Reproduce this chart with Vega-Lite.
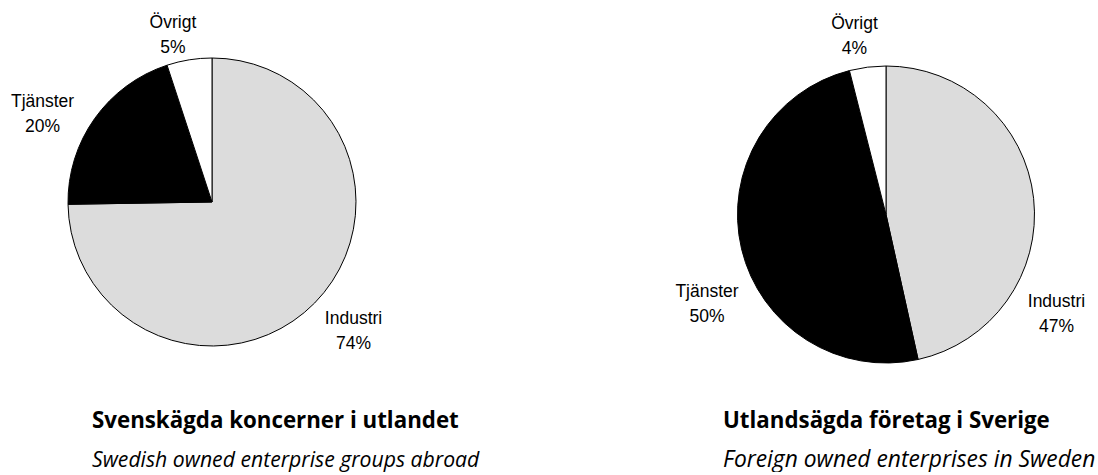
{
  "$schema": "https://vega.github.io/schema/vega-lite/v6.json",
  "padding": 0,
  "background": "white",
  "spacing": 250,
  "bounds": "flush",
  "config": {"view": {"stroke": null}},
  "hconcat": [
    {
      "width": 424,
      "height": 404,
      "data": {"values": [
        {"category": "Industri", "value": 74},
        {"category": "Tjänster", "value": 20},
        {"category": "Övrigt", "value": 5}
      ]},
      "transform": [{"calculate": "datum.category + '\\n' + datum.value + '%'", "as": "label"}],
      "title": {
        "text": "Svenskägda koncerner i utlandet",
        "subtitle": "Swedish owned enterprise groups abroad",
        "orient": "bottom", "anchor": "start", "frame": "group",
        "dx": 92, "offset": 5.5,
        "font": "Open Sans", "fontSize": 22.3, "fontWeight": "bold", "color": "#000000",
        "subtitleFont": "Open Sans", "subtitleFontSize": 21.2, "subtitleFontStyle": "italic",
        "subtitleColor": "#000000", "subtitlePadding": 18
      },
      "encoding": {
        "theta": {"field": "value", "type": "quantitative", "stack": true},
        "order": {"field": "category", "sort": "ascending"}
      },
      "layer": [
        {
          "mark": {"type": "arc", "radius": 144, "stroke": "#000000", "strokeWidth": 1},
          "encoding": {
            "color": {"field": "category", "type": "nominal", "legend": null,
              "scale": {"domain": ["Industri", "Tjänster", "Övrigt"], "range": ["#dcdcdc", "#000000", "#ffffff"]}}
          }
        },
        {
          "mark": {"type": "text", "radius": 175, "dx": 16.8, "dy": -1, "align": "center", "baseline": "alphabetic", "lineBreak": "\n", "lineHeight": 25, "font": "Liberation Sans", "fontSize": 17.5, "color": "#000000"},
          "encoding": {"text": {"condition": {"test": "datum.category === 'Industri'", "field": "label"}, "value": ""}}
        },
        {
          "mark": {"type": "text", "radius": 175, "dx": -26.9, "dy": 6.5, "align": "center", "baseline": "alphabetic", "lineBreak": "\n", "lineHeight": 25, "font": "Liberation Sans", "fontSize": 17.5, "color": "#000000"},
          "encoding": {"text": {"condition": {"test": "datum.category === 'Tjänster'", "field": "label"}, "value": ""}}
        },
        {
          "mark": {"type": "text", "radius": 175, "dx": -11.4, "dy": -1.2, "align": "center", "baseline": "alphabetic", "lineBreak": "\n", "lineHeight": 25, "font": "Liberation Sans", "fontSize": 17.5, "color": "#000000"},
          "encoding": {"text": {"condition": {"test": "datum.category === 'Övrigt'", "field": "label"}, "value": ""}}
        }
      ]
    },
    {
      "width": 424,
      "height": 429,
      "data": {"values": [
        {"category": "Industri", "value": 47},
        {"category": "Tjänster", "value": 50},
        {"category": "Övrigt", "value": 4}
      ]},
      "transform": [{"calculate": "datum.category + '\\n' + datum.value + '%'", "as": "label"}],
      "title": {
        "text": "Utlandsägda företag i Sverige",
        "subtitle": "Foreign owned enterprises in Sweden",
        "orient": "bottom", "anchor": "start", "frame": "group",
        "dx": 49, "offset": -19.5,
        "font": "Open Sans", "fontSize": 22.3, "fontWeight": "bold", "color": "#000000",
        "subtitleFont": "Open Sans", "subtitleFontSize": 22.8, "subtitleFontStyle": "italic",
        "subtitleColor": "#000000", "subtitlePadding": 17
      },
      "encoding": {
        "theta": {"field": "value", "type": "quantitative", "stack": true},
        "order": {"field": "category", "sort": "ascending"}
      },
      "layer": [
        {
          "mark": {"type": "arc", "radius": 148.5, "stroke": "#000000", "strokeWidth": 1},
          "encoding": {
            "color": {"field": "category", "type": "nominal", "legend": null,
              "scale": {"domain": ["Industri", "Tjänster", "Övrigt"], "range": ["#dcdcdc", "#000000", "#ffffff"]}}
          }
        },
        {
          "mark": {"type": "text", "radius": 175, "dx": -3.5, "dy": 112, "align": "center", "baseline": "alphabetic", "lineBreak": "\n", "lineHeight": 25, "font": "Liberation Sans", "fontSize": 17.5, "color": "#000000"},
          "encoding": {"text": {"condition": {"test": "datum.category === 'Industri'", "field": "label"}, "value": ""}}
        },
        {
          "mark": {"type": "text", "radius": 175, "dx": -8.7, "dy": 42.3, "align": "center", "baseline": "alphabetic", "lineBreak": "\n", "lineHeight": 25, "font": "Liberation Sans", "fontSize": 17.5, "color": "#000000"},
          "encoding": {"text": {"condition": {"test": "datum.category === 'Tjänster'", "field": "label"}, "value": ""}}
        },
        {
          "mark": {"type": "text", "radius": 175, "dx": -9.8, "dy": -12, "align": "center", "baseline": "alphabetic", "lineBreak": "\n", "lineHeight": 25, "font": "Liberation Sans", "fontSize": 17.5, "color": "#000000"},
          "encoding": {"text": {"condition": {"test": "datum.category === 'Övrigt'", "field": "label"}, "value": ""}}
        }
      ]
    }
  ]
}
